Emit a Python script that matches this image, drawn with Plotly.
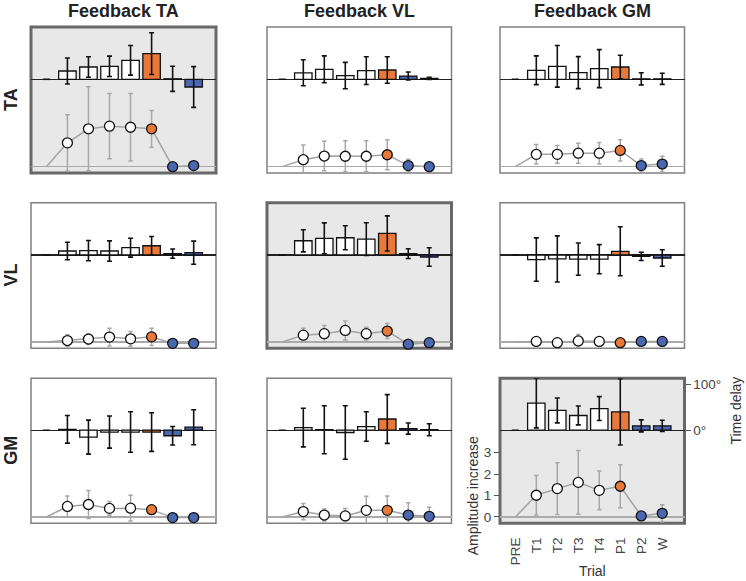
import plotly.graph_objects as go

W, H = 746, 581

trials = ["PRE", "T1", "T2", "T3", "T4", "P1", "P2", "W"]
muscles = ["TA", "VL", "GM"]
feedback_titles = ["Feedback TA", "Feedback VL", "Feedback GM"]

# ---- Time delay (degrees), bars ----
delay_TA_fbTA = [0, 17.9, 26.5, 28, 41, 55.4, 1, -16.6]
delay_TA_fbVL = [0, 14, 21.5, 8, 18.6, 20, 7, 2]
delay_TA_fbGM = [0, 19.4, 28, 14.4, 23, 26.5, 1, 1]
delay_VL_fbTA = [0, 8.6, 9.4, 8.6, 15.8, 20, 3, 5]
delay_VL_fbVL = [0, 30.8, 36, 37.3, 34.4, 46.6, 3, -4.3]
delay_VL_fbGM = [0, -10, -8.6, -9, -9, 8, -3, -6.5]
delay_GM_fbTA = [0, 2, -15, -4, -4, -4, -12, 6.5]
delay_GM_fbVL = [0, 5.7, 1, -5, 8, 24.4, 3.6, 1]
delay_GM_fbGM = [0, 59, 43, 32, 47, 40, 9.5, 9.5]

delay_err_TA_fbTA = [0, 28, 22, 22, 32, 45, 27, 44]
delay_err_TA_fbVL = [0, 28, 29, 28.5, 30, 28.7, 8.6, 2.5]
delay_err_TA_fbGM = [0, 31, 45, 34.5, 41, 25.5, 13, 12]
delay_err_VL_fbTA = [0, 19, 22, 22, 20.5, 20, 10, 25]
delay_err_VL_fbVL = [0, 24, 33.5, 26, 35.5, 38, 10.5, 20]
delay_err_VL_fbGM = [0, 47, 50, 35, 31.5, 53, 9, 18]
delay_err_GM_fbTA = [0, 30, 37, 35, 44, 42, 20, 38]
delay_err_GM_fbVL = [0, 42, 52, 58, 32, 53, 12, 13]
delay_err_GM_fbGM = [0, 54, 27, 20.5, 26, 72, 13, 12]

# ---- Amplitude increase, points ----
amp_TA_fbTA = [0, 1.1, 1.75, 1.87, 1.82, 1.75, 0.0, 0.05]
amp_TA_fbVL = [0, 0.32, 0.49, 0.48, 0.48, 0.55, 0.05, 0.0]
amp_TA_fbGM = [0, 0.57, 0.57, 0.62, 0.62, 0.75, 0.05, 0.12]
amp_VL_fbTA = [0, 0.07, 0.14, 0.23, 0.15, 0.24, -0.06, -0.06]
amp_VL_fbVL = [0, 0.32, 0.39, 0.54, 0.39, 0.51, -0.1, -0.03]
amp_VL_fbGM = [0, 0.03, -0.03, 0.05, 0.03, -0.03, 0.03, 0.03]
amp_GM_fbTA = [0, 0.49, 0.58, 0.4, 0.41, 0.34, -0.03, -0.03]
amp_GM_fbVL = [0, 0.25, 0.09, 0.05, 0.31, 0.31, 0.09, 0.03]
amp_GM_fbGM = [0, 1.01, 1.32, 1.61, 1.24, 1.43, 0.05, 0.17]

amp_err_TA_fbTA = [0, 1.3, 1.94, 1.51, 1.56, 0.85, 0.05, 0.05]
amp_err_TA_fbVL = [0, 0.68, 0.68, 0.72, 0.72, 0.69, 0.29, 0.05]
amp_err_TA_fbGM = [0, 0.45, 0.41, 0.46, 0.5, 0.49, 0.3, 0.36]
amp_err_VL_fbTA = [0, 0.27, 0.25, 0.41, 0.34, 0.4, 0.05, 0.05]
amp_err_VL_fbVL = [0, 0.32, 0.38, 0.44, 0.3, 0.35, 0.05, 0.05]
amp_err_VL_fbGM = [0, 0.1, 0.1, 0.3, 0.1, 0.1, 0.1, 0.1]
amp_err_GM_fbTA = [0, 0.49, 0.65, 0.32, 0.6, 0.19, 0.05, 0.05]
amp_err_GM_fbVL = [0, 0.38, 0.28, 0.35, 0.66, 0.67, 0.57, 0.42]
amp_err_GM_fbGM = [0, 0.92, 1.2, 1.48, 0.9, 1.0, 0.1, 0.4]

delays = [[delay_TA_fbTA, delay_TA_fbVL, delay_TA_fbGM],
          [delay_VL_fbTA, delay_VL_fbVL, delay_VL_fbGM],
          [delay_GM_fbTA, delay_GM_fbVL, delay_GM_fbGM]]
delay_errs = [[delay_err_TA_fbTA, delay_err_TA_fbVL, delay_err_TA_fbGM],
              [delay_err_VL_fbTA, delay_err_VL_fbVL, delay_err_VL_fbGM],
              [delay_err_GM_fbTA, delay_err_GM_fbVL, delay_err_GM_fbGM]]
amps = [[amp_TA_fbTA, amp_TA_fbVL, amp_TA_fbGM],
        [amp_VL_fbTA, amp_VL_fbVL, amp_VL_fbGM],
        [amp_GM_fbTA, amp_GM_fbVL, amp_GM_fbGM]]
amp_errs = [[amp_err_TA_fbTA, amp_err_TA_fbVL, amp_err_TA_fbGM],
            [amp_err_VL_fbTA, amp_err_VL_fbVL, amp_err_VL_fbGM],
            [amp_err_GM_fbTA, amp_err_GM_fbVL, amp_err_GM_fbGM]]

ORANGE = "#e8793a"
BLUE = "#4a67b0"
point_colors = ["white", "white", "white", "white", ORANGE, BLUE, BLUE]

# panel geometry in pixels
cols = [(31, 216), (267, 451.5), (500, 684.5)]
rows = [(26, 172.5), (202.5, 348.5), (378.5, 524)]
DELAY_RANGE = [-202, 113]
AMP_RANGE = [-0.29, 6.46]
X_RANGE = [-0.73, 8.06]


def px_x(p):
    return p / W


def px_y(p):
    return 1 - p / H


fig = go.Figure()
layout = dict(
    width=W, height=H, autosize=False,
    margin=dict(l=0, r=0, t=0, b=0),
    showlegend=False,
    paper_bgcolor="white",
    plot_bgcolor="rgba(0,0,0,0)",
    font=dict(family="Arial", color="#444", size=13),
)
shapes = []
annotations = []

k = 0
for r in range(3):
    for c in range(3):
        k += 1
        last = (k == 9)
        xname = "xaxis" if k == 1 else f"xaxis{k}"
        xref = "x" if k == 1 else f"x{k}"
        ybname = "yaxis" if k == 1 else f"yaxis{k}"
        ybref = "y" if k == 1 else f"y{k}"
        yaname = f"yaxis{k + 9}"
        yaref = f"y{k + 9}"
        x0p, x1p = cols[c]
        y0p, y1p = rows[r]

        layout[xname] = dict(
            domain=[px_x(x0p), px_x(x1p)], anchor=ybref,
            type="category", categoryorder="array", categoryarray=trials,
            range=X_RANGE, showgrid=False, zeroline=False, showline=False,
            showticklabels=last, ticks="outside" if last else "",
            ticklen=8, tickcolor="rgba(0,0,0,0)",
            tickangle=-90, tickfont=dict(size=13.5, color="#444"),
            fixedrange=True,
        )
        layout[ybname] = dict(
            domain=[px_y(y1p), px_y(y0p)], anchor=xref,
            range=DELAY_RANGE, showgrid=False, showline=False,
            zeroline=True, zerolinecolor="#222", zerolinewidth=1.4,
            side="right",
            showticklabels=last,
            tickvals=[0, 100], ticktext=["0°", "100°"],
            ticks="outside" if last else "", ticklen=5, tickcolor="#555",
            tickwidth=1, tickfont=dict(size=13.5, color="#444"),
            fixedrange=True,
        )
        layout[yaname] = dict(
            overlaying=ybref, anchor=xref,
            range=AMP_RANGE, showgrid=False, showline=False,
            zeroline=True, zerolinecolor="#aaaaaa", zerolinewidth=1.5,
            side="left",
            showticklabels=last,
            tickvals=[0, 1, 2, 3],
            ticks="outside" if last else "", ticklen=5, tickcolor="#555",
            tickwidth=1, tickfont=dict(size=13.5, color="#444"),
            fixedrange=True,
        )

        diag = (r == c)
        shapes.append(dict(
            type="rect", xref="paper", yref="paper", layer="below",
            x0=px_x(x0p), x1=px_x(x1p), y0=px_y(y1p), y1=px_y(y0p),
            fillcolor="#e8e8e8" if diag else "white",
            line=dict(color="#686868" if diag else "#808080", width=3 if diag else 1.5),
        ))

        d = delays[r][c]
        de = delay_errs[r][c]
        a = amps[r][c]
        ae = amp_errs[r][c]

        # bars (time delay)
        fig.add_trace(go.Bar(
            x=trials[1:], y=d[1:], width=0.83,
            marker=dict(color=point_colors, line=dict(color="#111", width=1.3)),
            error_y=dict(type="data", array=de[1:], visible=True,
                         color="#111", thickness=1.6, width=2.5),
            xaxis=xref, yaxis=ybref, hoverinfo="skip",
        ))
        # PRE mark
        fig.add_trace(go.Scatter(
            x=trials[:1], y=d[:1], mode="markers",
            marker=dict(symbol="line-ew", size=5, line=dict(color="#111", width=1.6)),
            xaxis=xref, yaxis=ybref, hoverinfo="skip",
        ))
        # amplitude line
        fig.add_trace(go.Scatter(
            x=trials, y=a, mode="lines",
            line=dict(color="#a3a3a3", width=1.5),
            xaxis=xref, yaxis=yaref, hoverinfo="skip",
        ))
        # amplitude error bars
        fig.add_trace(go.Scatter(
            x=trials[1:], y=a[1:], mode="markers",
            marker=dict(size=1, color="rgba(0,0,0,0)"),
            error_y=dict(type="data", array=ae[1:], visible=True,
                         color="#a8a8a8", thickness=1.5, width=2.2),
            xaxis=xref, yaxis=yaref, hoverinfo="skip",
        ))
        # amplitude points
        fig.add_trace(go.Scatter(
            x=trials[1:], y=a[1:], mode="markers", cliponaxis=False,
            marker=dict(size=10, color=point_colors, line=dict(color="#111", width=1.3)),
            xaxis=xref, yaxis=yaref, hoverinfo="skip",
        ))

# column titles
for c, t in enumerate(feedback_titles):
    x0p, x1p = cols[c]
    annotations.append(dict(
        text=f"<b>{t}</b>", xref="paper", yref="paper",
        x=px_x((x0p + x1p) / 2), y=px_y(10), xanchor="center", yanchor="middle",
        showarrow=False, font=dict(size=18, color="#222", family="Arial"),
    ))
# row labels
for r, m in enumerate(muscles):
    y0p, y1p = rows[r]
    annotations.append(dict(
        text=f"<b>{m}</b>", xref="paper", yref="paper",
        x=px_x(11), y=px_y((y0p + y1p) / 2), xanchor="center", yanchor="middle",
        textangle=-90, showarrow=False, font=dict(size=18, color="#222", family="Arial"),
    ))
# axis titles
annotations.append(dict(
    text="Time delay", xref="paper", yref="paper", x=px_x(736), y=px_y(411),
    xanchor="center", yanchor="middle", textangle=-90, showarrow=False,
    font=dict(size=14, color="#333"),
))
annotations.append(dict(
    text="Amplitude increase", xref="paper", yref="paper", x=px_x(473), y=px_y(497),
    xanchor="center", yanchor="middle", textangle=-90, showarrow=False,
    font=dict(size=14, color="#333"),
))
annotations.append(dict(
    text="Trial", xref="paper", yref="paper", x=px_x(592), y=px_y(572),
    xanchor="center", yanchor="middle", showarrow=False,
    font=dict(size=14, color="#333"),
))

layout["shapes"] = shapes
layout["annotations"] = annotations
fig.update_layout(**layout)

fig.write_html(
    "out.html",
    config={"displayModeBar": False, "staticPlot": True},
    post_script="document.body.style.margin='0';document.body.style.overflow='hidden';",
)
